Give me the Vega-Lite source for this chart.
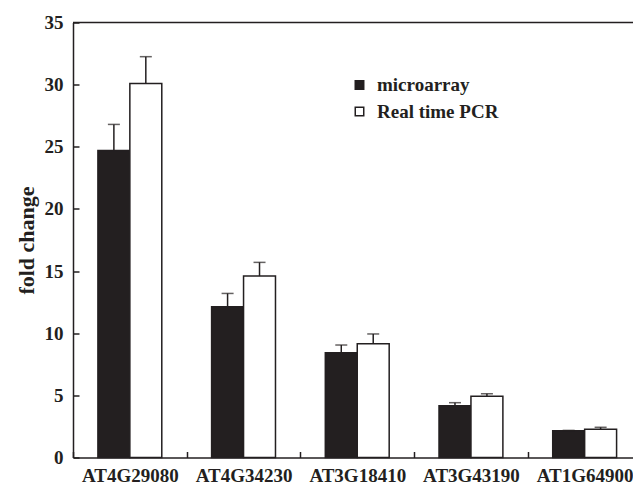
{
  "$schema": "https://vega.github.io/schema/vega-lite/v6.json",
  "width": 560,
  "height": 435,
  "autosize": {"type": "none"},
  "padding": {"left": 73, "top": 22.5, "right": 0, "bottom": 27.5},
  "background": "white",
  "config": {
    "view": {"stroke": null},
    "font": "Liberation Serif",
    "axis": {
      "labelFont": "Liberation Serif",
      "labelFontWeight": "bold",
      "labelFontSize": 19,
      "labelColor": "#231f20",
      "titleFont": "Liberation Serif",
      "titleFontWeight": "bold",
      "titleColor": "#231f20",
      "domainColor": "#231f20",
      "domainWidth": 1.5,
      "tickColor": "#231f20",
      "tickWidth": 1.5,
      "grid": false
    }
  },
  "data": {
    "values": [
      {"gene": "AT4G29080", "series": "microarray", "value": 24.7, "upper": 26.8},
      {"gene": "AT4G29080", "series": "Real time PCR", "value": 30.1, "upper": 32.25},
      {"gene": "AT4G34230", "series": "microarray", "value": 12.13, "upper": 13.2},
      {"gene": "AT4G34230", "series": "Real time PCR", "value": 14.6, "upper": 15.7},
      {"gene": "AT3G18410", "series": "microarray", "value": 8.43, "upper": 9.05},
      {"gene": "AT3G18410", "series": "Real time PCR", "value": 9.16, "upper": 9.94},
      {"gene": "AT3G43190", "series": "microarray", "value": 4.17, "upper": 4.41},
      {"gene": "AT3G43190", "series": "Real time PCR", "value": 4.92, "upper": 5.13},
      {"gene": "AT1G64900", "series": "microarray", "value": 2.16, "upper": 2.18},
      {"gene": "AT1G64900", "series": "Real time PCR", "value": 2.27, "upper": 2.43}
    ]
  },
  "encoding": {
    "x": {
      "field": "gene",
      "type": "nominal",
      "sort": null,
      "scale": {"range": [0, 568.5], "paddingInner": 0, "paddingOuter": 0},
      "axis": {
        "title": null,
        "labelAngle": 0,
        "tickBand": "extent",
        "tickSize": -6,
        "labelPadding": 15
      }
    },
    "xOffset": {
      "field": "series",
      "type": "nominal",
      "sort": ["microarray", "Real time PCR"],
      "scale": {"paddingInner": 0, "paddingOuter": 0.78}
    }
  },
  "layer": [
    {
      "mark": {"type": "bar", "stroke": "#231f20", "strokeWidth": 1.5},
      "encoding": {
        "y": {
          "field": "value",
          "type": "quantitative",
          "scale": {"domain": [0, 35], "nice": false},
          "axis": {
            "title": "fold change",
            "titleFontSize": 22,
            "titlePadding": 6,
            "values": [0, 5, 10, 15, 20, 25, 30, 35],
            "tickSize": -6,
            "labelPadding": 16
          }
        },
        "fill": {
          "field": "series",
          "type": "nominal",
          "scale": {"domain": ["microarray", "Real time PCR"], "range": ["#231f20", "#ffffff"]},
          "legend": {
            "title": null,
            "orient": "none",
            "legendX": 277,
            "legendY": 53,
            "symbolType": "square",
            "symbolSize": 72,
            "symbolStrokeColor": "#231f20",
            "symbolStrokeWidth": 1.5,
            "labelFont": "Liberation Serif",
            "labelFontWeight": "bold",
            "labelFontSize": 19,
            "labelColor": "#231f20",
            "labelOffset": 8,
            "rowPadding": 6.5
          }
        }
      }
    },
    {
      "mark": {"type": "rule", "color": "#231f20", "strokeWidth": 1.5},
      "encoding": {
        "y": {"field": "value", "type": "quantitative"},
        "y2": {"field": "upper"}
      }
    },
    {
      "mark": {"type": "tick", "color": "#231f20", "size": 12, "thickness": 1.5},
      "encoding": {
        "y": {"field": "upper", "type": "quantitative"}
      }
    },
    {
      "data": {"values": [{"top": 35}]},
      "mark": {"type": "rule", "color": "#231f20", "strokeWidth": 1.5},
      "encoding": {
        "x": null,
        "xOffset": null,
        "y": {"field": "top", "type": "quantitative"}
      }
    }
  ]
}
